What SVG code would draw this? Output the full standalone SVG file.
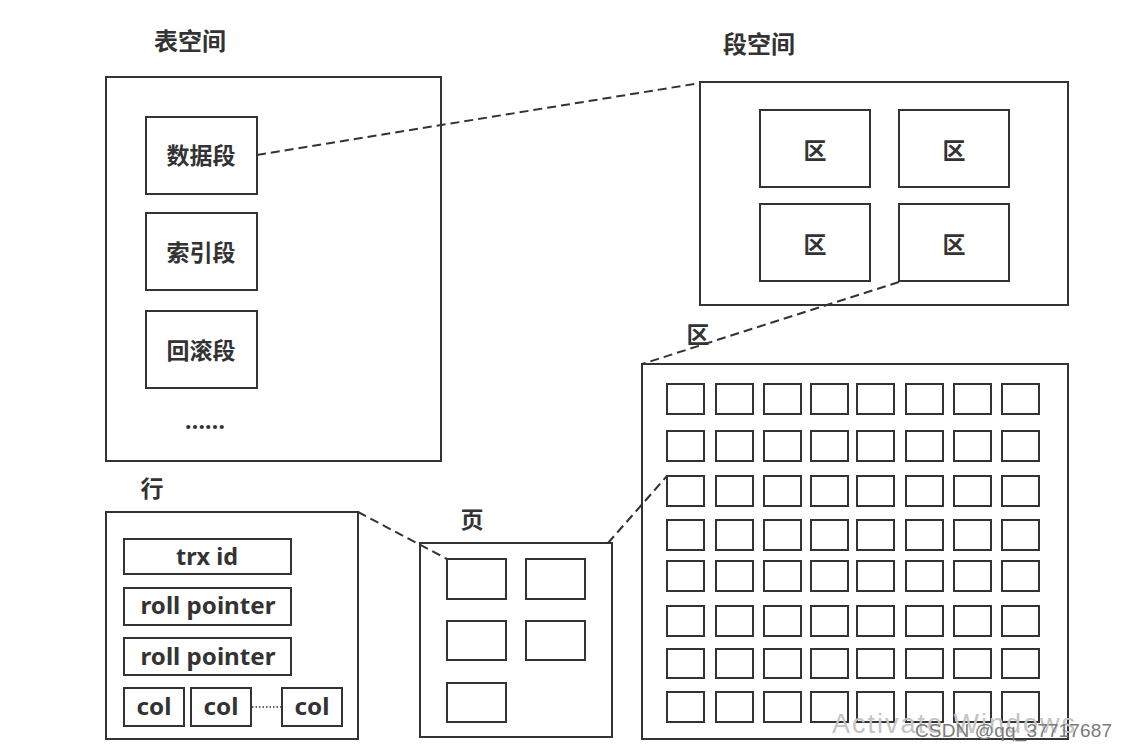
<svg xmlns="http://www.w3.org/2000/svg" width="1128" height="750" viewBox="0 0 1128 750">
<style>
  .box { fill: #ffffff; stroke: #333333; stroke-width: 2; }
  .cell { fill: #ffffff; stroke: #333333; stroke-width: 2; }
  .conn { fill: none; stroke: #333333; stroke-width: 2; stroke-dasharray: 9 5; }
  .dot { fill: none; stroke: #333333; stroke-width: 1.5; stroke-dasharray: 1.5 2; }
  .cjk { font-family: "Noto Sans CJK SC", "Noto Sans", sans-serif; font-weight: bold; fill: #333333; text-anchor: middle; }
  .lat { font-family: "Noto Sans", "Open Sans", sans-serif; font-weight: bold; fill: #333333; text-anchor: middle; font-size: 23px; }
  .title { font-size: 24px; }
  .lbl { font-size: 23px; }
  .wm1 { font-family: "Liberation Sans", sans-serif; font-size: 27px; fill: #c4c4c4; }
  .wm2 { font-family: "Liberation Sans", sans-serif; font-size: 19px; fill: #7a7a7a; }
</style>
<rect x="0" y="0" width="1128" height="750" fill="#ffffff"/>

<g id="tablespace">
  <text class="cjk title" x="190" y="50">表空间</text>
  <rect class="box" x="106" y="77" width="335" height="384"/>
  <g id="data-segment">
    <rect class="box" x="146" y="117" width="111" height="77"/>
    <text class="cjk lbl" x="201" y="164">数据段</text>
  </g>
  <g id="index-segment">
    <rect class="box" x="146" y="213" width="111" height="77"/>
    <text class="cjk lbl" x="201" y="261">索引段</text>
  </g>
  <g id="rollback-segment">
    <rect class="box" x="146" y="311" width="111" height="77"/>
    <text class="cjk lbl" x="201" y="359">回滚段</text>
  </g>
  <text class="lat" x="205" y="429" textLength="40">......</text>
</g>

<g id="segment-space">
  <text class="cjk title" x="759" y="53">段空间</text>
  <rect class="box" x="700" y="82" width="368" height="223"/>
  <g id="extent-1">
    <rect class="box" x="760" y="110" width="110" height="77"/>
    <text class="cjk lbl" x="815" y="159">区</text>
  </g>
  <g id="extent-2">
    <rect class="box" x="899" y="110" width="110" height="77"/>
    <text class="cjk lbl" x="954" y="159">区</text>
  </g>
  <g id="extent-3">
    <rect class="box" x="760" y="204" width="110" height="77"/>
    <text class="cjk lbl" x="815" y="253">区</text>
  </g>
  <g id="extent-4">
    <rect class="box" x="899" y="204" width="110" height="77"/>
    <text class="cjk lbl" x="954" y="253">区</text>
  </g>
</g>

<g id="extent">
  <text class="cjk lbl" x="698" y="343">区</text>
  <rect class="box" x="642" y="364" width="426" height="375"/>
  <g id="pages">
    <rect class="cell" x="667" y="384" width="37" height="30"/><rect class="cell" x="716" y="384" width="37" height="30"/><rect class="cell" x="764" y="384" width="37" height="30"/><rect class="cell" x="811" y="384" width="37" height="30"/><rect class="cell" x="857" y="384" width="37" height="30"/><rect class="cell" x="906" y="384" width="37" height="30"/><rect class="cell" x="954" y="384" width="37" height="30"/><rect class="cell" x="1002" y="384" width="37" height="30"/>
    <rect class="cell" x="667" y="431" width="37" height="30"/><rect class="cell" x="716" y="431" width="37" height="30"/><rect class="cell" x="764" y="431" width="37" height="30"/><rect class="cell" x="811" y="431" width="37" height="30"/><rect class="cell" x="857" y="431" width="37" height="30"/><rect class="cell" x="906" y="431" width="37" height="30"/><rect class="cell" x="954" y="431" width="37" height="30"/><rect class="cell" x="1002" y="431" width="37" height="30"/>
    <rect class="cell" x="667" y="476" width="37" height="30"/><rect class="cell" x="716" y="476" width="37" height="30"/><rect class="cell" x="764" y="476" width="37" height="30"/><rect class="cell" x="811" y="476" width="37" height="30"/><rect class="cell" x="857" y="476" width="37" height="30"/><rect class="cell" x="906" y="476" width="37" height="30"/><rect class="cell" x="954" y="476" width="37" height="30"/><rect class="cell" x="1002" y="476" width="37" height="30"/>
    <rect class="cell" x="667" y="520" width="37" height="30"/><rect class="cell" x="716" y="520" width="37" height="30"/><rect class="cell" x="764" y="520" width="37" height="30"/><rect class="cell" x="811" y="520" width="37" height="30"/><rect class="cell" x="857" y="520" width="37" height="30"/><rect class="cell" x="906" y="520" width="37" height="30"/><rect class="cell" x="954" y="520" width="37" height="30"/><rect class="cell" x="1002" y="520" width="37" height="30"/>
    <rect class="cell" x="667" y="561" width="37" height="30"/><rect class="cell" x="716" y="561" width="37" height="30"/><rect class="cell" x="764" y="561" width="37" height="30"/><rect class="cell" x="811" y="561" width="37" height="30"/><rect class="cell" x="857" y="561" width="37" height="30"/><rect class="cell" x="906" y="561" width="37" height="30"/><rect class="cell" x="954" y="561" width="37" height="30"/><rect class="cell" x="1002" y="561" width="37" height="30"/>
    <rect class="cell" x="667" y="606" width="37" height="30"/><rect class="cell" x="716" y="606" width="37" height="30"/><rect class="cell" x="764" y="606" width="37" height="30"/><rect class="cell" x="811" y="606" width="37" height="30"/><rect class="cell" x="857" y="606" width="37" height="30"/><rect class="cell" x="906" y="606" width="37" height="30"/><rect class="cell" x="954" y="606" width="37" height="30"/><rect class="cell" x="1002" y="606" width="37" height="30"/>
    <rect class="cell" x="667" y="649" width="37" height="29"/><rect class="cell" x="716" y="649" width="37" height="29"/><rect class="cell" x="764" y="649" width="37" height="29"/><rect class="cell" x="811" y="649" width="37" height="29"/><rect class="cell" x="857" y="649" width="37" height="29"/><rect class="cell" x="906" y="649" width="37" height="29"/><rect class="cell" x="954" y="649" width="37" height="29"/><rect class="cell" x="1002" y="649" width="37" height="29"/>
    <rect class="cell" x="667" y="692" width="37" height="30"/><rect class="cell" x="716" y="692" width="37" height="30"/><rect class="cell" x="764" y="692" width="37" height="30"/><rect class="cell" x="811" y="692" width="37" height="30"/><rect class="cell" x="857" y="692" width="37" height="30"/><rect class="cell" x="906" y="692" width="37" height="30"/><rect class="cell" x="954" y="692" width="37" height="30"/><rect class="cell" x="1002" y="692" width="37" height="30"/>
  </g>
</g>

<g id="page">
  <text class="cjk lbl" x="472" y="528">页</text>
  <rect class="box" x="420" y="543" width="192" height="194"/>
  <rect class="cell" x="447" y="559" width="59" height="40"/>
  <rect class="cell" x="526" y="559" width="59" height="40"/>
  <rect class="cell" x="447" y="621" width="59" height="39"/>
  <rect class="cell" x="526" y="621" width="59" height="39"/>
  <rect class="cell" x="447" y="683" width="59" height="39"/>
</g>

<g id="row">
  <text class="cjk lbl" x="152" y="497">行</text>
  <rect class="box" x="106" y="512" width="252" height="227"/>
  <g id="trx-id">
    <rect class="box" x="124" y="539" width="167" height="35"/>
    <text class="lat" x="207" y="565" textLength="62" lengthAdjust="spacingAndGlyphs">trx id</text>
  </g>
  <g id="roll-pointer-1">
    <rect class="box" x="124" y="588" width="167" height="37"/>
    <text class="lat" x="208" y="614" textLength="135" lengthAdjust="spacingAndGlyphs">roll pointer</text>
  </g>
  <g id="roll-pointer-2">
    <rect class="box" x="124" y="638" width="167" height="37"/>
    <text class="lat" x="208" y="665" textLength="135" lengthAdjust="spacingAndGlyphs">roll pointer</text>
  </g>
  <g id="col-1">
    <rect class="box" x="124" y="688" width="60" height="38"/>
    <text class="lat" x="154" y="715" textLength="35" lengthAdjust="spacingAndGlyphs">col</text>
  </g>
  <g id="col-2">
    <rect class="box" x="191" y="688" width="60" height="38"/>
    <text class="lat" x="221" y="715" textLength="35" lengthAdjust="spacingAndGlyphs">col</text>
  </g>
  <line class="dot" x1="252" y1="707" x2="282" y2="707"/>
  <g id="col-3">
    <rect class="box" x="282" y="688" width="60" height="38"/>
    <text class="lat" x="312" y="715" textLength="35" lengthAdjust="spacingAndGlyphs">col</text>
  </g>
</g>

<g id="connectors">
  <line class="conn" x1="257" y1="155" x2="700" y2="83"/>
  <line class="conn" x1="899" y1="282" x2="642" y2="364"/>
  <line class="conn" x1="358" y1="512" x2="447" y2="559"/>
  <line class="conn" x1="608" y1="543" x2="667" y2="476"/>
</g>

<g id="watermark">
  <text class="wm1" x="832" y="733" textLength="243">Activate Windows</text>
  <text class="wm2" x="915" y="737" textLength="197">CSDN @qq_37717687</text>
</g>
</svg>
